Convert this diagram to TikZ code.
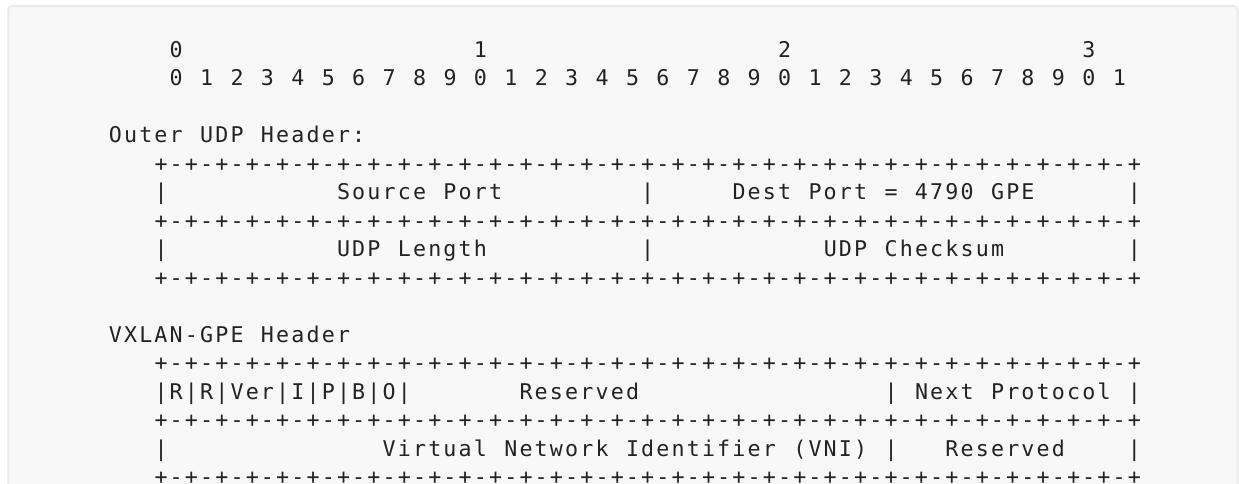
\documentclass[tikz,border=0pt]{standalone}
\usepackage{fontspec}
\newfontfamily\asciifont{DejaVu Sans Mono}
\definecolor{codebg}{HTML}{F8F8F8}
\definecolor{codeframe}{HTML}{EAEAEA}
\definecolor{codeink}{HTML}{232323}
% one character cell of the ascii grid
\newlength\cw
\setlength\cw{11.4075pt}
\makeatletter
\newcommand\mono[1]{\@tfor\mch:=#1\do{\makebox[\cw]{\mch}}}
\makeatother
\newcommand\colx[1]{107.8+15.21*(#1)}
\newcommand\rowy[1]{57.3+28.5*(#1)}
\begin{document}
\begin{tikzpicture}[x=0.75pt,y=-0.75pt,
	asc/.style={anchor=base west, inner sep=0pt, outer sep=0pt, text=codeink,
		font={\asciifont\fontsize{16.25}{19}\selectfont}}]
		\useasboundingbox (0,0) rectangle (1239,483);
		%code block
		\draw[codeframe, fill=codebg, line width=1.5pt, rounded corners=3pt] (8.3,5.8) rectangle (1237.5,520);
		
		%bit ruler
		\foreach \t/\c in {0/4, 1/24, 2/44, 3/64}{
			\node[asc] (tens\t) at ({\colx{\c}},{\rowy{0}}){\mono{\t}};
		}
		\foreach \b [evaluate=\b as \d using {int(mod(\b,10))}] in {0,...,31}{
			\node[asc] (bit\b) at ({\colx{4+2*\b}},{\rowy{1}}){\mono{\d}};
		}
		
		%separator lines
		\foreach \r in {4, 6, 8, 11, 13, 15}{
			\node[asc] (sep\r) at ({\colx{3}},{\rowy{\r}}){\foreach \i in {1,...,32}{\mono{+-}}\mono{+}};
		}
		
		%outer udp header
		\node[asc] (udptitle) at ({\colx{0}},{\rowy{3}}){\mono{Outer~UDP~Header:}};
		\foreach \c in {3, 35, 67}{
			\node[asc] (udpbarA\c) at ({\colx{\c}},{\rowy{5}}){\mono{|}};
			\node[asc] (udpbarB\c) at ({\colx{\c}},{\rowy{7}}){\mono{|}};
		}
		\node[asc] (srcport) at ({\colx{15}},{\rowy{5}}){\mono{Source~Port}};
		\node[asc] (dstport) at ({\colx{41}},{\rowy{5}}){\mono{Dest~Port~=~4790~GPE}};
		\node[asc] (udplen) at ({\colx{15}},{\rowy{7}}){\mono{UDP~Length}};
		\node[asc] (udpsum) at ({\colx{47}},{\rowy{7}}){\mono{UDP~Checksum}};
		
		%vxlan-gpe header
		\node[asc] (gpetitle) at ({\colx{0}},{\rowy{10}}){\mono{VXLAN-GPE~Header}};
		\node[asc] (flags) at ({\colx{3}},{\rowy{12}}){\mono{|R|R|Ver|I|P|B|O|}};
		\node[asc] (rsvdA) at ({\colx{27}},{\rowy{12}}){\mono{Reserved}};
		\node[asc] (nextbar) at ({\colx{51}},{\rowy{12}}){\mono{|}};
		\node[asc] (nextproto) at ({\colx{53}},{\rowy{12}}){\mono{Next~Protocol}};
		\node[asc] (endbarA) at ({\colx{67}},{\rowy{12}}){\mono{|}};
		\node[asc] (vnibar) at ({\colx{3}},{\rowy{14}}){\mono{|}};
		\node[asc] (vni) at ({\colx{18}},{\rowy{14}}){\mono{Virtual~Network~Identifier~(VNI)}};
		\node[asc] (rsvdbar) at ({\colx{51}},{\rowy{14}}){\mono{|}};
		\node[asc] (rsvdB) at ({\colx{55}},{\rowy{14}}){\mono{Reserved}};
		\node[asc] (endbarB) at ({\colx{67}},{\rowy{14}}){\mono{|}};
\end{tikzpicture}
\end{document}
